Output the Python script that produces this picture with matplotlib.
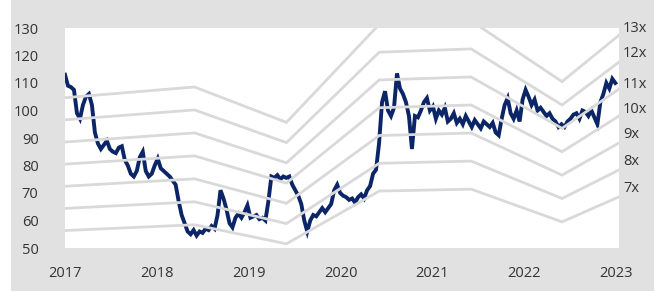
import numpy as np
import matplotlib
matplotlib.use("Agg")
import matplotlib.pyplot as plt
import matplotlib.patches as mpatches
import matplotlib.transforms as mtransforms

# ------------------------------------------------------------
# Share price vs forward P/E bands (7x-13x), 2017-2023
# ------------------------------------------------------------

# Share price, roughly every 1.5 weeks from Jan 2017 to end 2022
price = [
    113, 109, 108.5, 107.5, 99, 97, 102, 105, 106, 102,
    92, 88, 86, 87.5, 89, 86, 85, 84.5, 86.5, 87,
    82, 80, 77, 76, 78, 83, 85, 78, 76, 77,
    80, 82.5, 79, 78, 77, 76, 74.5, 73, 67, 62,
    59, 56, 55, 56.5, 54.5, 56, 55.5, 57, 56.5, 58,
    57, 62, 71, 68, 64, 59, 57.5, 61, 62.5, 61,
    63, 65.5, 61, 61.5, 62, 60.5, 61, 60, 67, 76,
    75.5, 76.5, 75, 76, 75.5, 76, 73, 71, 69, 66,
    60, 56, 60, 62, 61.5, 63, 64.5, 63, 64.5, 66,
    71, 73, 70, 69, 68.5, 67.5, 68, 66.5, 68.5, 69.5,
    68, 71, 72.5, 77, 78.5, 88, 103, 107, 100, 98,
    101, 113.5, 108, 106, 103, 98, 86, 98, 97.5, 100,
    103, 104.5, 100, 101.5, 97, 100, 98.5, 101, 96, 97,
    99, 95.5, 97, 95, 98, 96, 94, 96.5, 95, 93.5,
    96, 95, 94, 95.5, 92, 91, 97, 102, 104.5, 99,
    97, 100, 96, 104, 107.5, 105, 102, 104, 100, 101,
    99.5, 98, 99, 97, 96, 94, 95, 94, 96, 97,
    98.5, 99, 97, 100, 99.5, 98, 100, 97.5, 95, 103,
    106, 110, 108, 111.5, 110,
]
price_start = 2017.0
price_end = 2022.99

# Earnings per share path used for the P/E bands
eps_dates = [2017.0, 2018.41, 2019.41, 2020.42, 2021.42, 2022.41, 2023.03]
eps_values = [8.05, 8.35, 7.36, 10.1, 10.2, 8.5, 9.8]
multiples = [7, 8, 9, 10, 11, 12, 13]

# Right-hand band labels and where they sit on the value scale
band_labels = ["13x", "12x", "11x", "10x", "9x", "8x", "7x"]
band_label_pos = [130, 120.9, 109.3, 100.2, 91.1, 81.3, 71.5]

years = [2017, 2018, 2019, 2020, 2021, 2022, 2023]
y_ticks = [50, 60, 70, 80, 90, 100, 110, 120, 130]

NAVY = "#0b2566"
BAND = "#d9d9d9"
PANEL = "#e1e1e1"
TEXT = "#333333"

plt.rcParams.update({
    "font.family": ["Open Sans", "DejaVu Sans"],
    "font.size": 10,
})

W, H = 657, 291
fig = plt.figure(figsize=(W / 100, H / 100), dpi=100, facecolor="white")

# grey panel behind the chart
fig.patches.append(mpatches.Rectangle(
    (11 / W, 0), (654 - 11) / W, 1, transform=fig.transFigure,
    facecolor=PANEL, edgecolor="none", zorder=-10))

ax = fig.add_axes([65 / W, (H - 248) / H, (619 - 65) / W, 220 / H])
ax.set_facecolor("white")

x_price = np.linspace(price_start, price_end, len(price))
ax.plot(x_price, price, color=NAVY, lw=2.8, solid_joinstyle="miter", zorder=2)

# P/E bands drawn above the price line
for m in multiples:
    ax.plot(eps_dates, [m * e for e in eps_values], color=BAND, lw=2.0,
            solid_joinstyle="miter", zorder=3)

ax.set_xlim(2017.0, 2023.03)
ax.set_ylim(50, 130)
ax.set_xticks(years)
ax.set_xticklabels([str(y) for y in years])
ax.set_yticks(y_ticks)
ax.tick_params(axis="both", length=0, colors=TEXT, labelsize=10.5)
ax.tick_params(axis="y", pad=19)
ax.tick_params(axis="x", pad=13)
for s in ax.spines.values():
    s.set_visible(False)

trans = mtransforms.blended_transform_factory(ax.transAxes, ax.transData)
for lab, pos in zip(band_labels, band_label_pos):
    ax.text(1.007, pos, lab, transform=trans, ha="left", va="center",
            fontsize=10.5, color=TEXT, clip_on=False)

fig.savefig("out.png", dpi=100, facecolor="white")
